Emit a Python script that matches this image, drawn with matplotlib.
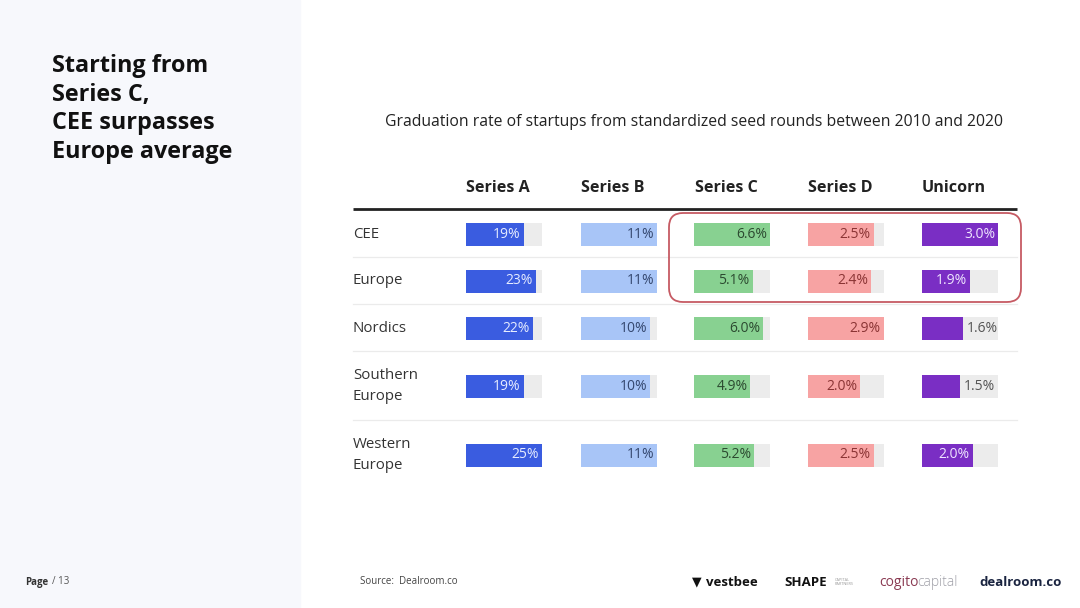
import matplotlib.pyplot as plt
from matplotlib.patches import Rectangle, FancyBboxPatch

# DATA

regions = ['CEE', 'Europe', 'Nordics', 'Southern\nEurope', 'Western\nEurope']
stages = ['Series A', 'Series B', 'Series C', 'Series D', 'Unicorn']

series_a = [19, 23, 22, 19, 25]
series_b = [11, 11, 10, 10, 11]
series_c = [6.6, 5.1, 6.0, 4.9, 5.2]
series_d = [2.5, 2.4, 2.9, 2.0, 2.5]
unicorn = [3.0, 1.9, 1.6, 1.5, 2.0]

labels_a = ['19%', '23%', '22%', '19%', '25%']
labels_b = ['11%', '11%', '10%', '10%', '11%']
labels_c = ['6.6%', '5.1%', '6.0%', '4.9%', '5.2%']
labels_d = ['2.5%', '2.4%', '2.9%', '2.0%', '2.5%']
labels_u = ['3.0%', '1.9%', '1.6%', '1.5%', '2.0%']

# STYLE

FONT = 'Open Sans'
bar_colors = ['#3a5ce0', '#a8c5f7', '#88d191', '#f7a3a3', '#7a2ec4']
text_colors = ['#e6ecff', '#34476e', '#2c4a30', '#8a3434', '#efe6ff']
track_color = '#ececec'

row_y = [234, 281, 328, 386, 455]      # pixel rows
col_x = [466, 581, 694, 808, 922]      # track left edges
track_w = 76
bar_h = 23

fig = plt.figure(figsize=(10.8, 6.08), dpi=100)
fig.patch.set_facecolor('white')

bg = fig.add_axes([0, 0, 1, 1])
bg.set_xlim(0, 1080)
bg.set_ylim(608, 0)
bg.axis('off')

# left panel
bg.add_patch(Rectangle((0, 0), 300, 608, color='#f7f8fc', zorder=0))

bg.text(52, 54, 'Starting from\nSeries C,\nCEE surpasses\nEurope average',
        fontsize=16.8, fontweight='bold', family=FONT, color='#111111',
        va='top', ha='left', linespacing=1.26)

bg.text(385, 122, 'Graduation rate of startups from standardized seed rounds between 2010 and 2020',
        fontsize=11.3, family=FONT, color='#222222', va='center', ha='left')

# headers
for x0, s in zip(col_x, stages):
    bg.text(x0 + 32, 188, s, fontsize=11.6, fontweight='bold', family=FONT,
            color='#222222', ha='center', va='center')

bg.plot([353, 1017], [209, 209], color='#222222', lw=2, solid_capstyle='butt')
for y in [257, 304, 351, 420]:
    bg.plot([353, 1017], [y, y], color='#ebebeb', lw=0.9)

for y, r in zip(row_y, regions):
    bg.text(353, y, r, fontsize=10.8, family=FONT, color='#333333',
            ha='left', va='center', linespacing=1.55)

# bars, one small axes per stage
all_vals = [series_a, series_b, series_c, series_d, unicorn]
all_labels = [labels_a, labels_b, labels_c, labels_d, labels_u]

for i in range(5):
    vals = all_vals[i]
    vmax = max(vals)
    ax = fig.add_axes([col_x[i] / 1080, 0, track_w / 1080, 1])
    ax.set_xlim(0, vmax)
    ax.set_ylim(608, 0)
    ax.axis('off')
    ax.barh(row_y, [vmax] * 5, height=bar_h, color=track_color, zorder=1)
    ax.barh(row_y, vals, height=bar_h, color=bar_colors[i], zorder=2)
    for v, y, lab in zip(vals, row_y, all_labels[i]):
        if v / vmax >= 0.6:
            ax.annotate(lab, (v, y), xytext=(-3, 0), textcoords='offset pixels',
                        ha='right', va='center', fontsize=10, family=FONT,
                        color=text_colors[i], zorder=3)
        else:
            ax.annotate(lab, (v, y), xytext=(4, 0), textcoords='offset pixels',
                        ha='left', va='center', fontsize=10, family=FONT,
                        color='#555555', zorder=3)

# highlight box
bg.add_patch(FancyBboxPatch((669, 213), 352, 89,
                            boxstyle='round,pad=0,rounding_size=14',
                            fill=False, edgecolor='#c65a63', lw=1.3, zorder=5))

# footer
bg.text(25, 582, 'Page', fontsize=7, fontweight='bold', family=FONT,
        color='#333333', va='center', ha='left')
bg.text(52, 582, '/ 13', fontsize=7, family=FONT, color='#555555',
        va='center', ha='left')
bg.text(360, 582, 'Source:  Dealroom.co', fontsize=7, family=FONT,
        color='#444444', va='center', ha='left')

# partner logos as text
bg.text(692, 582, '▼', fontsize=9, family='DejaVu Sans', color='#111111',
        va='center', ha='left')
bg.text(706, 582, 'vestbee', fontsize=9.5, fontweight='bold', family=FONT,
        color='#111111', va='center', ha='left')
bg.text(784, 582, 'SHAPE', fontsize=9.5, fontweight='bold', family=FONT,
        color='#111111', va='center', ha='left')
bg.text(835, 582, 'CAPITAL\nPARTNERS', fontsize=2.8, family=FONT,
        color='#999999', va='center', ha='left')
bg.text(879, 582, 'cogito', fontsize=10, family=FONT, color='#8a3a52',
        va='center', ha='left')
bg.text(917, 582, 'capital', fontsize=10, family=FONT, color='#a0a0a8',
        fontweight='light', va='center', ha='left')
bg.text(979, 582, 'dealroom.co', fontsize=9.5, fontweight='bold', family=FONT,
        color='#1a2440', va='center', ha='left')

fig.savefig('out.png', dpi=100)
